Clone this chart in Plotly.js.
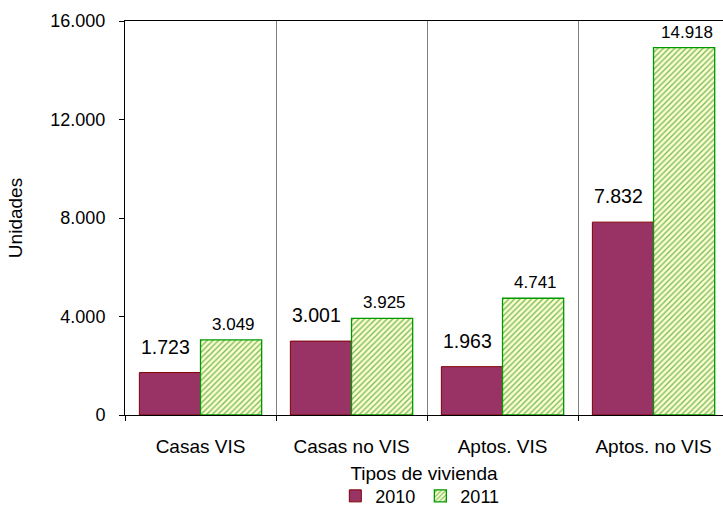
<!DOCTYPE html>
<html>
<head>
<meta charset="utf-8">
<script src="https://cdn.plot.ly/plotly-3.0.1.min.js"></script>
<style>html,body{margin:0;padding:0;background:#fff}#chart{width:723px;height:515px}</style>
</head>
<body>
<div id="chart"></div>
<script>
const categories = ["Casas VIS", "Casas no VIS", "Aptos. VIS", "Aptos. no VIS"];
const values2010 = [1723, 3001, 1963, 7832];
const values2011 = [3049, 3925, 4741, 14918];
const seriesNames = ["2010", "2011"];

function fmt(v) {
  return String(v).replace(/\B(?=(\d{3})+(?!\d))/g, ".");
}

const font = "Liberation Sans, Arial, sans-serif";

const traces = [
  {
    type: "bar", name: seriesNames[0], x: categories, y: values2010,
    marker: { color: "#993366", line: { color: "#800000", width: 1 } },
    hoverinfo: "y"
  },
  {
    type: "bar", name: seriesNames[1], x: categories, y: values2011,
    marker: {
      color: "#ffffcc",
      line: { color: "#009900", width: 1.3 },
      pattern: { shape: "/", fgcolor: "#77bb66", bgcolor: "#ffffcc", size: 4, solidity: 0.35, fillmode: "replace" }
    },
    hoverinfo: "y"
  }
];

const annotations = [];
categories.forEach((c, i) => {
  annotations.push({ x: c, y: values2010[i], xref: "x", yref: "y", text: fmt(values2010[i]),
    showarrow: false, yanchor: "bottom", xshift: -35, yshift: 13, font: { family: font, size: 19.5, color: "#000" } });
  annotations.push({ x: c, y: values2011[i], xref: "x", yref: "y", text: fmt(values2011[i]),
    showarrow: false, yanchor: "bottom", xshift: 33, yshift: 4, font: { family: font, size: 17, color: "#000" } });
});

const layout = {
  width: 723, height: 515,
  margin: { l: 125, r: 0, t: 21, b: 100 },
  paper_bgcolor: "#fff", plot_bgcolor: "#fff",
  separators: ",.",
  font: { family: font, size: 19, color: "#000" },
  barmode: "group", bargap: 0.19, bargroupgap: 0,
  showlegend: true,
  legend: { orientation: "h", x: 0.493, xanchor: "center", y: -0.206, yanchor: "middle",
    font: { family: font, size: 18 }, itemwidth: 30, tracegroupgap: 0, traceorder: "normal" },
  xaxis: {
    type: "category", range: [-0.5, 3.46], tickson: "boundaries",
    showline: true, linecolor: "#000", linewidth: 1, mirror: true,
    ticks: "outside", ticklen: 5, tickcolor: "#000",
    showgrid: true, gridcolor: "#808080", gridwidth: 1,
    tickfont: { family: font, size: 19 }, ticklabelstandoff: 14,
    title: { text: "Tipos de vivienda", font: { family: font, size: 19 }, standoff: 10 },
    automargin: false, fixedrange: true
  },
  yaxis: {
    range: [0, 16000], tickvals: [0, 4000, 8000, 12000, 16000], tickformat: ",d",
    showline: true, linecolor: "#000", linewidth: 1,
    ticks: "outside", ticklen: 5, tickcolor: "#000",
    showgrid: false, zeroline: false,
    tickfont: { family: font, size: 18 }, ticklabelstandoff: 10,
    title: { text: "Unidades", font: { family: font, size: 19 }, standoff: 22 },
    automargin: false, fixedrange: true
  },
  annotations: annotations
};

Plotly.newPlot("chart", traces, layout, { displayModeBar: false, staticPlot: true });
</script>
</body>
</html>
